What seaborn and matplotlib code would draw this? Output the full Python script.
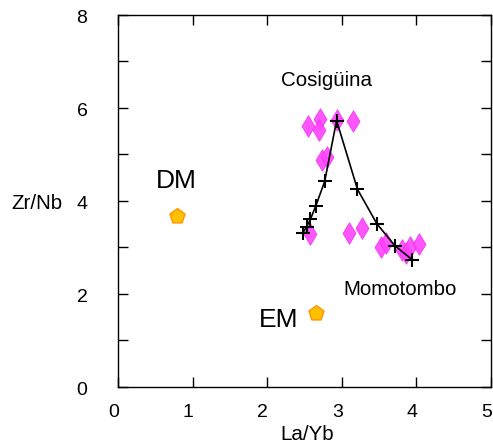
import matplotlib
matplotlib.use("Agg")
import matplotlib.pyplot as plt
import matplotlib.transforms as mtransforms
import seaborn as sns
import pandas as pd

# ---- data ----
line_x = [2.48, 2.53, 2.58, 2.65, 2.77, 2.93, 3.21, 3.47, 3.71, 3.94]
line_y = [3.32, 3.45, 3.61, 3.89, 4.42, 5.73, 4.25, 3.51, 3.04, 2.74]

sample_x = [2.54, 2.71, 2.69, 2.93, 3.15, 2.74, 2.80, 2.58,
            3.09, 3.27, 3.52, 3.59, 3.81, 3.86, 3.91, 4.03]
sample_y = [5.61, 5.76, 5.53, 5.74, 5.71, 4.88, 4.95, 3.30,
            3.32, 3.41, 3.02, 3.09, 2.95, 2.88, 3.01, 3.08]

end_x = [0.79, 2.65]
end_y = [3.68, 1.59]
end_names = ["DM", "EM"]

x_ticks = [0, 1, 2, 3, 4, 5]
y_ticks = [0, 2, 4, 6, 8]

sns.set_style("white")
plt.rcParams['font.family'] = ['Liberation Sans', 'DejaVu Sans']
plt.rcParams['text.color'] = 'black'
plt.rcParams['axes.labelcolor'] = 'black'
plt.rcParams['xtick.color'] = 'black'
plt.rcParams['ytick.color'] = 'black'

fig = plt.figure(figsize=(4.93, 4.46), dpi=100)
ax = fig.add_axes([0.2394, 0.1323, 0.7566, 0.8341])

df_s = pd.DataFrame({"x": sample_x, "y": sample_y})
sns.scatterplot(data=df_s, x="x", y="y", ax=ax, marker="d", s=120,
                color="#FF44FF", edgecolor="#F030F0", linewidth=0.6,
                alpha=0.9, zorder=2)

df_l = pd.DataFrame({"x": line_x, "y": line_y})
sns.lineplot(data=df_l, x="x", y="y", ax=ax, sort=False, color="black",
             linewidth=1.2, marker="+", markersize=10.5, markeredgewidth=1.5,
             markeredgecolor="black", zorder=3)

df_e = pd.DataFrame({"x": end_x, "y": end_y, "name": end_names})
sns.scatterplot(data=df_e, x="x", y="y", ax=ax, marker="p", s=130,
                color="#FFC000", edgecolor="#FF9400", linewidth=1.0, zorder=4)

ax.text(2.80, 6.59, "Cosigüina", ha="center", va="center", fontsize=14.8,
        color="black")
ax.text(3.78, 2.09, "Momotombo", ha="center", va="center", fontsize=14.8,
        color="black")
ax.text(0.78, 4.42, "DM", ha="center", va="center", fontsize=19,
        color="black")
ax.text(2.15, 1.44, "EM", ha="center", va="center", fontsize=19,
        color="black")

ax.set_xlim(0, 5)
ax.set_ylim(0, 8)
ax.set_xticks(x_ticks)
ax.set_yticks(y_ticks)
ax.set_yticks([1, 3, 5, 7], minor=True)
ax.set_xticklabels([str(t) for t in x_ticks])
ax.set_yticklabels([str(t) for t in y_ticks])

ax.tick_params(axis="both", which="both", direction="in", length=7,
               width=1.0, color="black", labelcolor="black", top=True,
               right=True, left=True, bottom=True, labelsize=14)
ax.tick_params(axis="y", which="both", pad=22)
ax.tick_params(axis="x", which="both", pad=12)

# shift tick labels slightly like the reference
off_x = mtransforms.ScaledTranslation(-4.5 / 100, 0, fig.dpi_scale_trans)
for lbl in ax.get_xticklabels():
    lbl.set_transform(lbl.get_transform() + off_x)
off_y = mtransforms.ScaledTranslation(0, -2 / 100, fig.dpi_scale_trans)
for lbl in ax.get_yticklabels():
    lbl.set_transform(lbl.get_transform() + off_y)

for sp in ax.spines.values():
    sp.set_visible(True)
    sp.set_color("black")
    sp.set_linewidth(1.0)

ax.set_xlabel("La/Yb", fontsize=14.8, color="black")
ax.set_ylabel("Zr/Nb", fontsize=14.8, rotation=0, color="black")
ax.xaxis.set_label_coords(0.508, -0.129)
ax.xaxis.label.set_va("center")
ax.yaxis.set_label_coords(-0.150, 0.492)
ax.yaxis.label.set_ha("right")
ax.yaxis.label.set_va("center")

fig.savefig("out.png", dpi=100)
